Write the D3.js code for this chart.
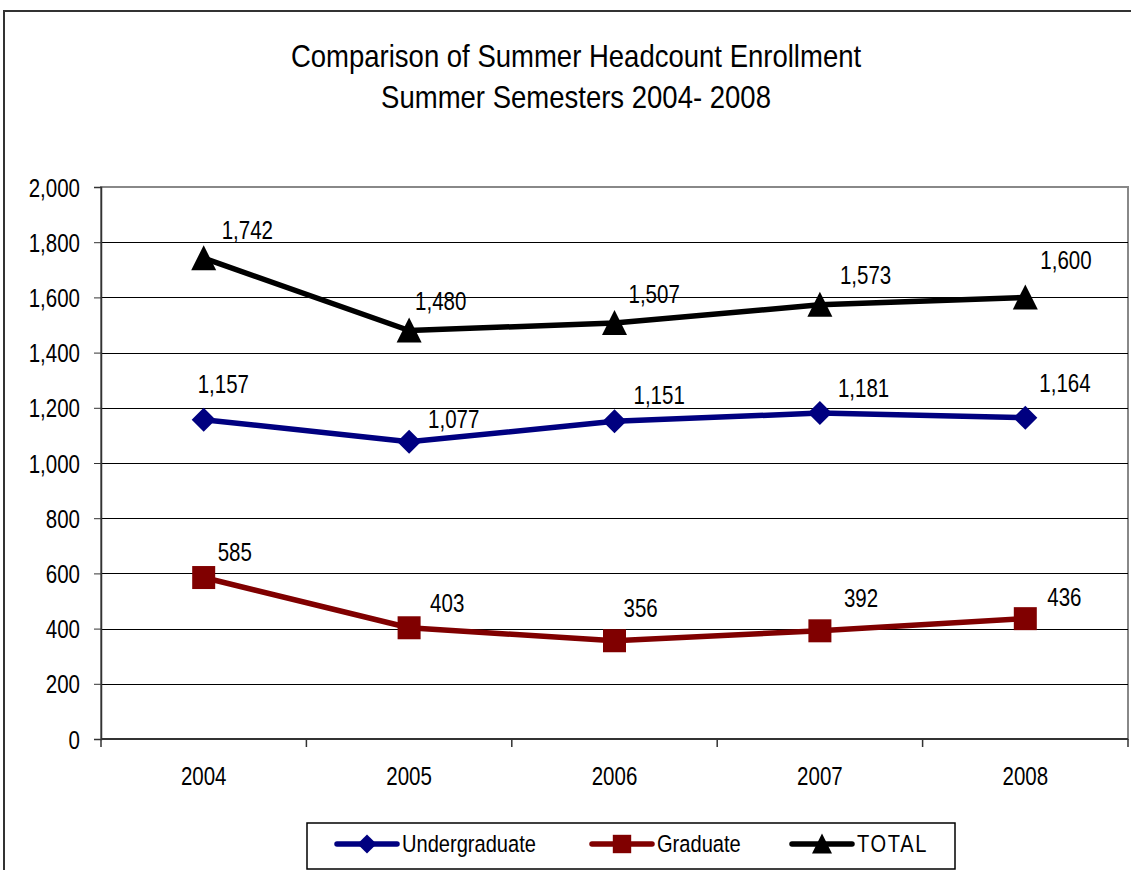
<!DOCTYPE html>
<html>
<head>
<meta charset="utf-8">
<script src="https://cdn.jsdelivr.net/npm/d3@7"></script>
<style>
  html, body { margin: 0; padding: 0; background: #fff; }
  svg text { font-family: "Liberation Sans", Arial, sans-serif; fill: #000; }
</style>
</head>
<body>
<svg id="chart" width="1131" height="870"></svg>
<script>
// ---- data ----
const years = ["2004", "2005", "2006", "2007", "2008"];
const undergraduate = [1157, 1077, 1151, 1181, 1164];
const graduate = [585, 403, 356, 392, 436];
const total = [1742, 1480, 1507, 1573, 1600];
const yTicks = [0, 200, 400, 600, 800, 1000, 1200, 1400, 1600, 1800, 2000];
const titleLines = ["Comparison of Summer Headcount Enrollment", "Summer Semesters 2004- 2008"];

// label nudges (pixel offsets from the point, like Excel's hand-placed labels)
const nudgeUnder = [[-6, -27], [19, -14], [19, -17], [18, -16], [14, -26]];
const nudgeGrad  = [[14, -17], [21, -16], [9, -24], [24, -24], [22, -13]];
const nudgeTotal = [[18, -19], [6, -21], [14, -20], [20, -21], [15, -28]];

const series = [
  { name: "Undergraduate", values: undergraduate, color: "#000080", shape: "diamond", nudge: nudgeUnder },
  { name: "Graduate", values: graduate, color: "#800000", shape: "square", nudge: nudgeGrad },
  { name: "TOTAL", values: total, color: "#000000", shape: "triangle", nudge: nudgeTotal }
];

(function () {
const NARROW = 0.82; // emulate a narrow (Arial Narrow–like) face
const svg = d3.select("#chart");
const at = (px, py, k) => `translate(${px},${py}) scale(${k || NARROW},1)`;

// outer chart border
svg.append("rect").attr("x", 4).attr("y", 11).attr("width", 1160).attr("height", 900)
  .attr("fill", "#fff").attr("stroke", "#333").attr("stroke-width", 2);

// title
svg.append("g").selectAll("text").data(titleLines).join("text")
  .attr("transform", (d, i) => at(576, 67 + i * 41, 0.86))
  .attr("text-anchor", "middle").attr("font-size", 32).text(d => d);

const pL = 101, pR = 1128, pT = 187, pB = 739;
const x = d3.scaleBand().domain(years).range([pL, pR]);
const y = d3.scaleLinear().domain([0, 2000]).range([pB, pT]);

// plot area border (gray)
svg.append("rect").attr("x", pL).attr("y", pT).attr("width", pR - pL).attr("height", pB - pT)
  .attr("fill", "none").attr("stroke", "#888").attr("stroke-width", 2);

// gridlines
svg.append("g").selectAll("line").data(yTicks.filter(t => t > 0 && t < 2000)).join("line")
  .attr("x1", pL).attr("x2", pR).attr("y1", d => Math.round(y(d)) + 0.5).attr("y2", d => Math.round(y(d)) + 0.5)
  .attr("stroke", "#000").attr("stroke-width", 1);

// y axis
const yAxis = svg.append("g").attr("transform", `translate(${pL},0)`)
  .call(d3.axisLeft(y).tickValues(yTicks).tickSize(7).tickPadding(14).tickFormat(d3.format(",")));
yAxis.attr("font-family", null).attr("font-size", null);
yAxis.select(".domain").attr("stroke", "#333").attr("stroke-width", 1.5);
yAxis.selectAll(".tick line").attr("stroke", "#333");
yAxis.selectAll("text").attr("font-size", 25).attr("fill", "#000")
  .attr("x", null).attr("dy", null).attr("transform", at(-21, 9));

// x axis with ticks at category boundaries
const xAxis = svg.append("g").attr("transform", `translate(0,${pB})`);
xAxis.append("line").attr("x1", pL).attr("x2", pR).attr("y1", 0).attr("y2", 0)
  .attr("stroke", "#333").attr("stroke-width", 2);
const bounds = years.map(d => x(d)).concat([x(years[years.length - 1]) + x.bandwidth()]);
xAxis.selectAll("line.b").data(bounds).join("line").attr("class", "b")
  .attr("x1", d => d).attr("x2", d => d).attr("y1", 0).attr("y2", 8).attr("stroke", "#333").attr("stroke-width", 1.5);
xAxis.selectAll("text").data(years).join("text")
  .attr("transform", d => at(x(d) + x.bandwidth() / 2, 46))
  .attr("text-anchor", "middle").attr("font-size", 25).text(d => d);

const cx = d => x(d) + x.bandwidth() / 2;

function marker(g, shape, color) {
  if (shape === "diamond") {
    g.append("path").attr("d", "M0,-12L12,0L0,12L-12,0Z").attr("fill", color);
  } else if (shape === "square") {
    g.append("rect").attr("x", -11.5).attr("y", -11.5).attr("width", 23).attr("height", 23).attr("fill", color);
  } else {
    g.append("path").attr("d", "M0,-13L12.5,12L-12.5,12Z").attr("fill", color);
  }
}

const line = d3.line().x((d, i) => cx(years[i])).y(d => y(d));

series.forEach(s => {
  svg.append("path").datum(s.values).attr("d", line)
    .attr("fill", "none").attr("stroke", s.color).attr("stroke-width", 5.5).attr("stroke-linejoin", "round");
  s.values.forEach((v, i) => {
    const g = svg.append("g").attr("transform", `translate(${cx(years[i])},${y(v)})`);
    marker(g, s.shape, s.color);
  });
  svg.append("g").selectAll("text").data(s.values).join("text")
    .attr("transform", (d, i) => at(cx(years[i]) + s.nudge[i][0], y(d) + s.nudge[i][1]))
    .attr("font-size", 25).text(d => d3.format(",")(d));
});

// legend
const lg = svg.append("g");
lg.append("rect").attr("x", 307).attr("y", 823).attr("width", 648).attr("height", 46)
  .attr("fill", "#fff").attr("stroke", "#000").attr("stroke-width", 1.5);
const legendX = [337, 592, 792];
series.forEach((s, i) => {
  const g = lg.append("g").attr("transform", `translate(${legendX[i]},844)`);
  g.append("line").attr("x1", 0).attr("x2", 60).attr("stroke", s.color).attr("stroke-width", 5.5).attr("stroke-linecap", "round");
  const mg = g.append("g").attr("transform", "translate(30,0) scale(0.8)");
  marker(mg, s.shape, s.color);
  g.append("text").attr("transform", at(65, 8)).attr("font-size", 24.5)
    .attr("letter-spacing", s.name === "TOTAL" ? 2 : 0).text(s.name);
});
})();
</script>
</body>
</html>
